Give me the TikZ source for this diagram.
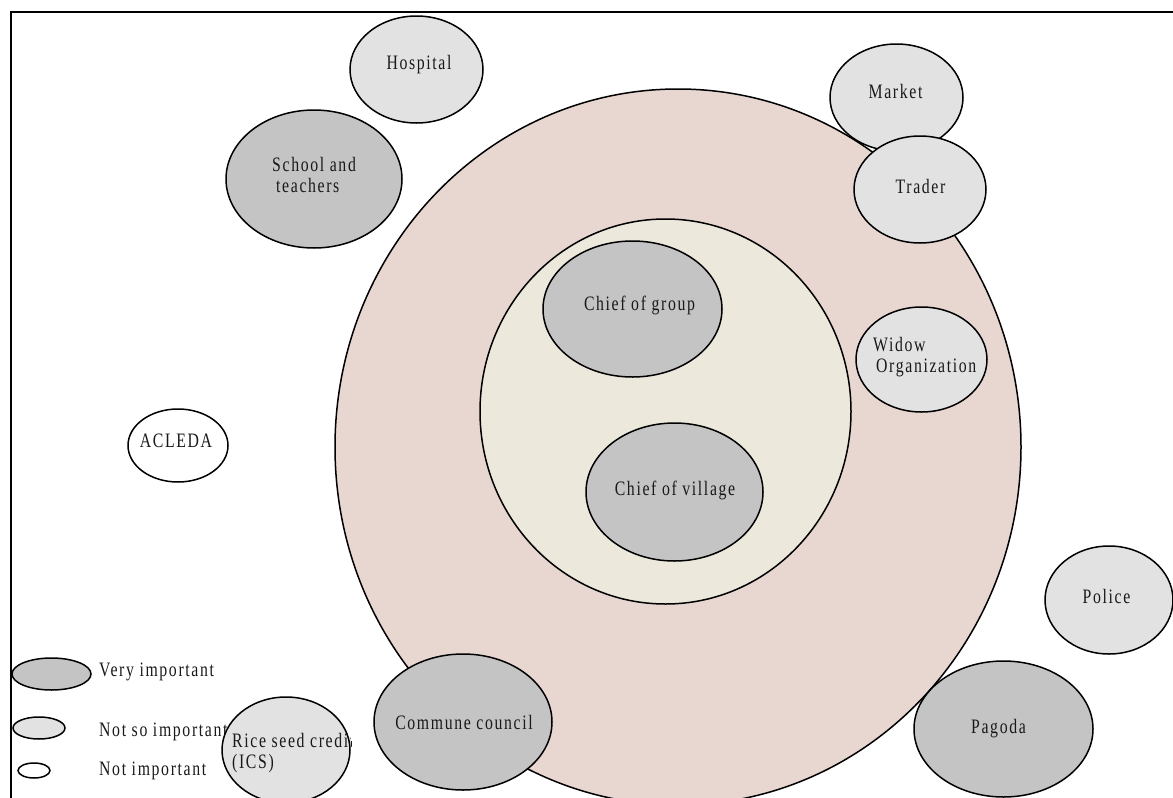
\documentclass[tikz,border=0pt]{standalone}
\usepackage{fontspec}
\setmainfont[FakeStretch=0.77,LetterSpace=8]{Liberation Serif}
\usetikzlibrary{shapes.geometric}

\definecolor{veryimp}{HTML}{C4C4C4}
\definecolor{soimp}{HTML}{E2E2E2}
\definecolor{outerring}{HTML}{E8D6D1}
\definecolor{innerring}{HTML}{ECE9DC}

\begin{document}
\begin{tikzpicture}[x=1pt,y=-1pt,
  sz/.style n args={2}{minimum width=#1pt,minimum height=#2pt},
  bubble/.style={ellipse,draw=black,line width=1.5pt,inner sep=0pt},
  vimp/.style={bubble,fill=veryimp},
  simp/.style={bubble,fill=soimp},
  nimp/.style={bubble,fill=white},
  ring/.style={bubble},
  lbl/.style={font=\fontsize{20.5}{21}\selectfont,inner sep=0pt,text=black!90},
  lblc/.style={lbl,anchor=base},
  lblw/.style={lbl,anchor=base west},
  lblm/.style={lbl,anchor=north west,align=left}]

\useasboundingbox (0,0) rectangle (1173,798);
\clip (0,0) rectangle (1173,798);

% frame
\draw[line width=2.5pt] (11,12) rectangle (1190,815);

% circles of closeness
\node[ring,fill=outerring,sz={686}{716}] (outer) at (678,447) {};
\node[ring,fill=innerring,sz={371}{385}] (inner) at (665.5,411.5) {};

% institutions
\node[simp,sz={133}{107}] (hosp) at (416.5,69.5) {};
\node[lblc] (hospt) at (419,69) {Hospital};

\node[vimp,sz={176}{138}] (school) at (314,179) {};
\node[lblm] (schoolt) at (272,157) {School and\\\hspace{4pt}teachers};

\node[simp,sz={133}{107}] (market) at (896.5,97.5) {};
\node[lblc] (markett) at (895.5,98) {Market};

\node[simp,sz={132}{107}] (trader) at (920,189.5) {};
\node[lblc] (tradert) at (920.5,193) {Trader};

\node[simp,sz={131}{105}] (widow) at (921.5,359.5) {};
\node[lblm] (widowt) at (873,337) {Widow\\\hspace{3pt}Organization};

\node[vimp,sz={179}{136}] (cog) at (632.5,309) {};
\node[lblc] (cogt) at (639.5,310) {Chief of group};

\node[vimp,sz={177}{138}] (cov) at (674.5,492) {};
\node[lblc] (covt) at (675,495) {Chief of village};

\node[nimp,sz={100}{73}] (acleda) at (178,445.5) {};
\node[lblc] (acledat) at (176,447) {ACLEDA};

\node[simp,sz={128}{108}] (police) at (1109,600) {};
\node[lblc] (policet) at (1106.5,603) {Police};

\node[vimp,sz={179}{136}] (pagoda) at (1003.5,729) {};
\node[lblc] (pagodat) at (998.5,733) {Pagoda};

\node[vimp,sz={178}{136}] (commune) at (463,722) {};
\node[lblc] (communet) at (464,729) {Commune council};

% legend
\node[vimp,sz={79}{32}] (keyvery) at (51.5,674) {};
\node[lblw] (keyveryt) at (99,676) {Very important};
\node[simp,sz={52}{22}] (keyso) at (39,728) {};
\node[lblw] (keysot) at (99,736) {Not so important};
\node[nimp,sz={32}{15}] (keynot) at (34,770.5) {};
\node[lblw] (keynott) at (99,775) {Not important};

% drawn last: it covers the end of the legend line; its own text is cut at its rim
\node[simp,sz={128}{106}] (rice) at (286,750) {};
\begin{scope}
  \clip (rice.center) ellipse (66pt and 55pt);
  \node[lblm] (ricet) at (232,733) {Rice seed credit\\(ICS)};
\end{scope}

\end{tikzpicture}
\end{document}
